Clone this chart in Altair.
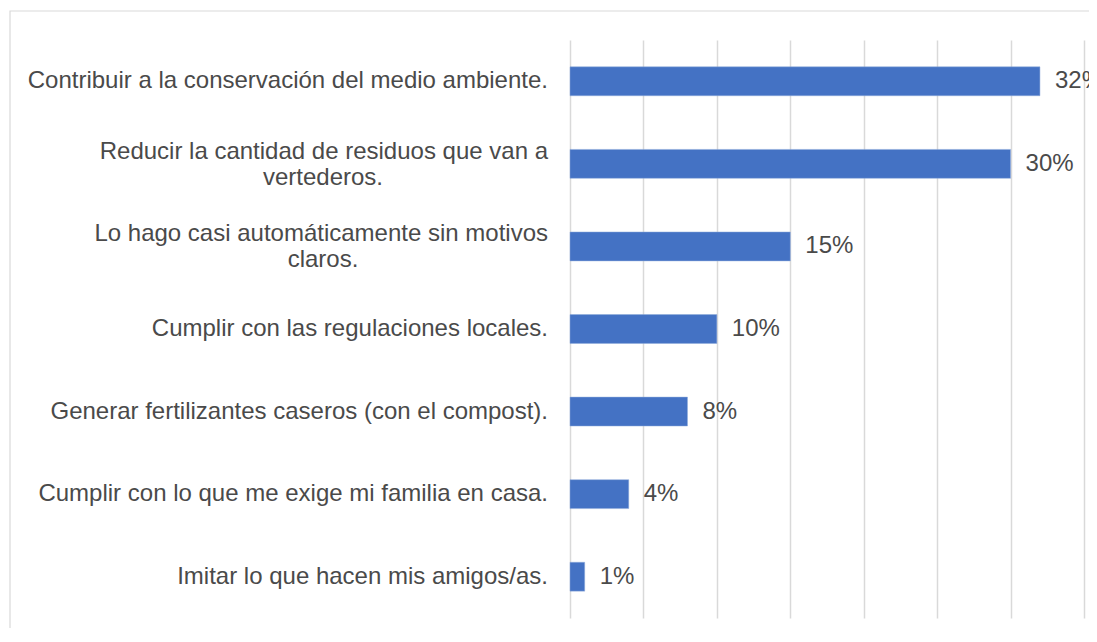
import altair as alt
import pandas as pd

labels = [
    "Contribuir a la conservación del medio ambiente.",
    "Reducir la cantidad de residuos que van a vertederos.",
    "Lo hago casi automáticamente sin motivos claros.",
    "Cumplir con las regulaciones locales.",
    "Generar fertilizantes caseros (con el compost).",
    "Cumplir con lo que me exige mi familia en casa.",
    "Imitar lo que hacen mis amigos/as.",
]
line1 = [
    "Contribuir a la conservación del medio ambiente.",
    "Reducir la cantidad de residuos que van a",
    "Lo hago casi automáticamente sin motivos",
    "Cumplir con las regulaciones locales.",
    "Generar fertilizantes caseros (con el compost).",
    "Cumplir con lo que me exige mi familia en casa.",
    "Imitar lo que hacen mis amigos/as.",
]
line2 = ["", "vertederos.", "claros.", "", "", "", ""]
values = [32, 30, 15, 10, 8, 4, 1]
x_ticks = [0, 5, 10, 15, 20, 25, 30, 35]

df = pd.DataFrame({"cat": labels, "l1": line1, "l2": line2, "v": values})
df["vlabel"] = df["v"].astype(str) + "%"

W, H = 514, 578
FONT = "Liberation Sans"
TXT = "#4a4a4a"
GRID = "#d9d9d9"
FS = 24

x_enc = alt.X("v:Q", scale=alt.Scale(domain=[0, 35], nice=False),
              axis=alt.Axis(values=x_ticks, labels=False, ticks=False, domain=False,
                            title=None, grid=True, gridColor=GRID, gridWidth=1.5))
y_enc = alt.Y("cat:N", sort=None,
              scale=alt.Scale(paddingInner=0.65, paddingOuter=0.325),
              axis=None)

base = alt.Chart(df)

frame = alt.Chart(pd.DataFrame({"a": [0]})).mark_rect(
    fill=None, stroke=GRID, strokeWidth=1.2
).encode(x=alt.value(-560), x2=alt.value(W + 100), y=alt.value(-29), y2=alt.value(H + 60))

bars = base.mark_bar(color="#4472C4", stroke="#8eaadb", strokeWidth=0.5).encode(x=x_enc, y=y_enc)

vals = base.mark_text(align="left", baseline="middle", dx=15, font=FONT,
                      fontSize=FS, color=TXT).encode(
    x="v:Q", y=alt.Y("cat:N", sort=None), text="vlabel:N")

single = base.transform_filter("datum.l2 == ''").mark_text(
    align="right", baseline="middle", dx=-22, font=FONT, fontSize=FS, color=TXT
).encode(x=alt.value(0), y=alt.Y("cat:N", sort=None), text="l1:N")

first = base.transform_filter("datum.l2 != ''").mark_text(
    align="right", baseline="middle", dx=-22, dy=-12, font=FONT, fontSize=FS, color=TXT
).encode(x=alt.value(0), y=alt.Y("cat:N", sort=None), text="l1:N")

second = base.transform_filter("datum.l2 != ''").mark_text(
    align="center", baseline="middle", dx=-247, dy=14, font=FONT, fontSize=FS, color=TXT
).encode(x=alt.value(0), y=alt.Y("cat:N", sort=None), text="l2:N")

chart = alt.layer(frame, bars, vals, single, first, second).properties(
    width=W, height=H,
    autosize=alt.AutoSizeParams(type="none"),
    padding={"left": 562, "top": 32, "right": 5, "bottom": 10},
).configure(background="white", view=alt.ViewConfig(stroke=None))

chart.save("out.html", embed_options={"renderer": "svg", "actions": False})
